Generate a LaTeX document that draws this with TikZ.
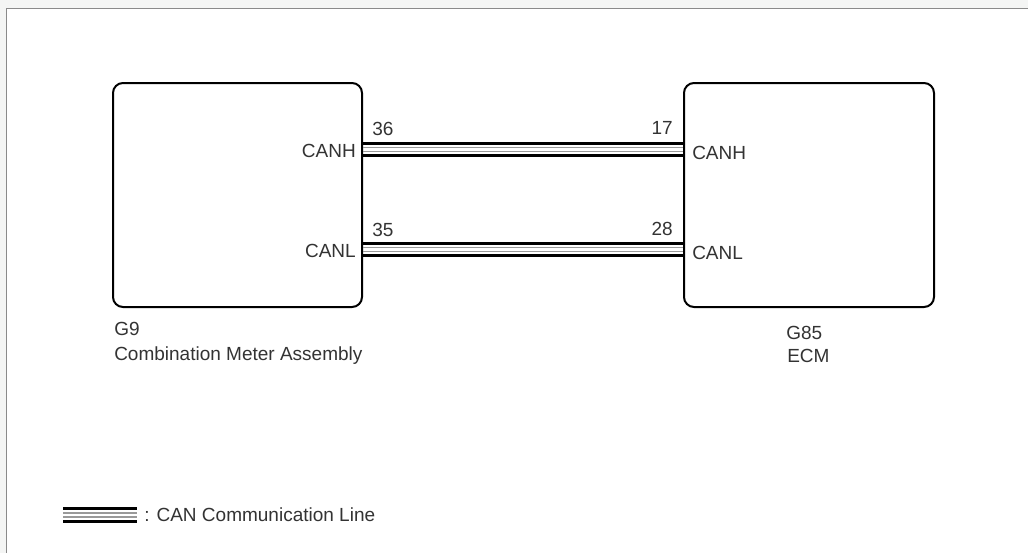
\documentclass[tikz,border=0pt]{standalone}
\usepackage{fontspec}
\setmainfont{Liberation Sans}
\usetikzlibrary{calc}
\definecolor{txt}{HTML}{333333}
\definecolor{bgout}{HTML}{F4F5F4}
\definecolor{framecol}{HTML}{8A8A8A}
\definecolor{wiregray}{HTML}{999999}
\newcommand\canpair[2]{%
  \foreach \o/\c/\w in {-6.2/black/2.25pt, 6.2/black/2.25pt, -1.8/wiregray/1.1pt, 1.8/wiregray/1.1pt}
    \draw[line width=\w, draw=\c] ($(#1)+(0,\o)$) -- ($(#2)+(0,\o)$);%
}
\begin{document}
\begin{tikzpicture}[x=0.75pt,y=-0.75pt,
  font=\fontsize{14.25pt}{17pt}\selectfont,
  ecu/.style={draw=black, line width=1.5pt, rounded corners=7.5pt, minimum height=168pt, inner sep=0pt},
  lbl/.style={text=txt, inner sep=0pt}]
\useasboundingbox (0,0) rectangle (1028,553);
\fill[bgout] (0,0) rectangle (1028,553);
\fill[white] (6.5,8.5) rectangle (1028,553);
\draw[framecol, line width=1.1pt] (6.5,553) -- (6.5,8.5) -- (1028,8.5);

\node[ecu, minimum width=186.75pt] (cma) at (237.5,195) {};
\node[ecu, minimum width=187.5pt] (ecm) at (809,195) {};

\coordinate (rowH) at (0,149.5);
\coordinate (rowL) at (0,249.5);

\canpair{cma.east |- rowH}{ecm.west |- rowH}
\canpair{cma.east |- rowL}{ecm.west |- rowL}

\node[lbl, anchor=east] (lh) at (356,151) {CANH};
\node[lbl, anchor=east] (ll) at (356,251) {CANL};
\node[lbl, anchor=west] (rh) at (692,153) {CANH};
\node[lbl, anchor=west] (rl) at (692,253) {CANL};

\node[lbl, anchor=base west] (p36) at (372,135) {36};
\node[lbl, anchor=base west] (p35) at (372,236) {35};
\node[lbl, anchor=base east] (p17) at (673,134) {17};
\node[lbl, anchor=base east] (p28) at (673,235) {28};

\node[lbl, anchor=base west] (g9) at (114,335) {G9};
\node[lbl, anchor=base west] (g9n) at (114,360) {Combination Meter Assembly};
\node[lbl, anchor=base west] (g85) at (786,339) {G85};
\node[lbl, anchor=base west] (g85n) at (787,362) {ECM};

\coordinate (lg1) at (63,515);
\coordinate (lg2) at (137,515);
\canpair{lg1}{lg2}
\node[lbl, anchor=west] (lgt) at (144,515) {: CAN Communication Line};
\end{tikzpicture}
\end{document}
